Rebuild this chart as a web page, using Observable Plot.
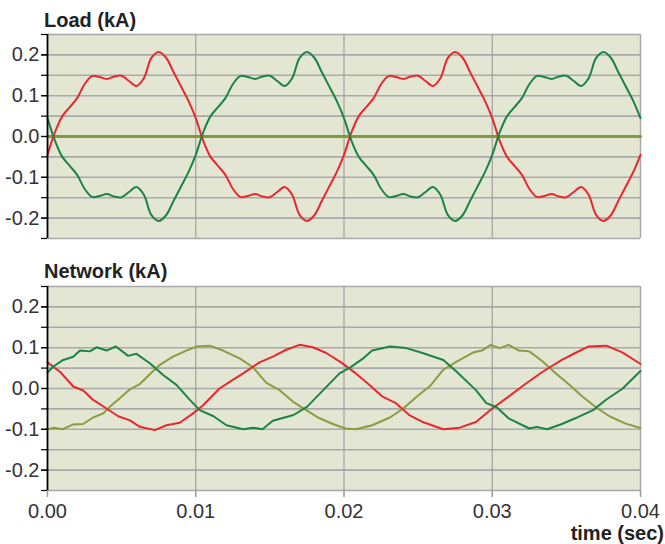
<!DOCTYPE html>
<html><head><meta charset="utf-8">
<script src="https://cdn.jsdelivr.net/npm/d3@7"></script>
<script src="https://cdn.jsdelivr.net/npm/@observablehq/plot@0.6"></script>
<style>
body{margin:0;background:#fff;font-family:"Liberation Sans",Arial,Helvetica,sans-serif;}
#wrap{position:relative;width:665px;height:544px;overflow:hidden;}
.title{position:absolute;font-weight:bold;font-size:20px;color:#222;line-height:20px;white-space:nowrap;}
#p1,#p2{position:absolute;left:0;}
</style>
</head><body>
<div id="wrap">
  <div class="title" id="t1" style="left:44px;top:10px;"></div>
  <div id="p1" style="top:0;"></div>
  <div class="title" id="t2" style="left:44px;top:261px;"></div>
  <div id="p2" style="top:250px;"></div>
  <div class="title" id="xl" style="right:1px;top:523px;"></div>
</div>
<script>
// ---- text ----
const loadTitle = "Load (kA)";
const networkTitle = "Network (kA)";
const xAxisLabel = "time (sec)";

// ---- axis ticks ----
const yTicks = [-0.25,-0.2,-0.15,-0.1,-0.05,0,0.05,0.1,0.15,0.2,0.25];
const yLabelTicks = [-0.2,-0.1,0,0.1,0.2];
const xTicks = [0,0.01,0.02,0.03,0.04];
const xGrid = [0.01,0.02,0.03];

// ---- Load panel (sampled every 0.5 ms, times in ms) ----
const loadTimeMs = d3.range(0, 40.25, 0.5);
const loadRed = [-0.045,
 0.01,0.05,0.072,0.094,0.128,0.148,0.146,0.141,0.147,0.149,0.136,0.124,0.143,0.192,0.207,0.193,0.158,0.123,0.088,0.045,
 -0.01,-0.05,-0.072,-0.094,-0.128,-0.148,-0.146,-0.141,-0.147,-0.149,-0.136,-0.124,-0.143,-0.192,-0.207,-0.193,-0.158,-0.123,-0.088,-0.045,
 0.01,0.05,0.072,0.094,0.128,0.148,0.146,0.141,0.147,0.149,0.136,0.124,0.143,0.192,0.207,0.193,0.158,0.123,0.088,0.045,
 -0.01,-0.05,-0.072,-0.094,-0.128,-0.148,-0.146,-0.141,-0.147,-0.149,-0.136,-0.124,-0.143,-0.192,-0.207,-0.193,-0.158,-0.123,-0.088,-0.045];
const loadGreen = [0.045,
 -0.01,-0.05,-0.072,-0.094,-0.128,-0.148,-0.146,-0.141,-0.147,-0.149,-0.136,-0.124,-0.143,-0.192,-0.207,-0.193,-0.158,-0.123,-0.088,-0.045,
 0.01,0.05,0.072,0.094,0.128,0.148,0.146,0.141,0.147,0.149,0.136,0.124,0.143,0.192,0.207,0.193,0.158,0.123,0.088,0.045,
 -0.01,-0.05,-0.072,-0.094,-0.128,-0.148,-0.146,-0.141,-0.147,-0.149,-0.136,-0.124,-0.143,-0.192,-0.207,-0.193,-0.158,-0.123,-0.088,-0.045,
 0.01,0.05,0.072,0.094,0.128,0.148,0.146,0.141,0.147,0.149,0.136,0.124,0.143,0.192,0.207,0.193,0.158,0.123,0.088,0.045];
const loadOliveTimeMs = [0, 40];
const loadOlive = [0, 0];

// ---- Network panel (times in ms) ----
const netRedTimeMs = [0,0.84,1.74,2.41,3.08,3.98,4.77,5.56,6.23,7.24,8.02,8.92,9.82,10.5,11.6,12.5,13.2,14.3,15.2,16.1,17.0,17.9,18.8,19.8,20.8,21.7,22.6,23.5,24.4,25.3,26.7,27.8,28.9,30.0,31.1,32.3,33.4,34.7,35.6,36.5,37.7,38.8,40.0];
const netRed = [0.064,0.041,0.005,-0.005,-0.028,-0.049,-0.068,-0.078,-0.094,-0.102,-0.09,-0.084,-0.061,-0.041,0.0,0.021,0.037,0.064,0.078,0.095,0.107,0.101,0.087,0.064,0.037,0.009,-0.02,-0.036,-0.065,-0.082,-0.1,-0.096,-0.082,-0.049,-0.02,0.013,0.041,0.07,0.087,0.103,0.105,0.088,0.06];
const netGreenTimeMs = [0,0.4,1.06,1.74,2.19,2.86,3.31,3.98,4.61,5.44,6.0,6.9,7.8,8.7,9.6,10.27,11.2,12.07,13.2,13.86,14.5,15.2,16.6,17.5,18.6,19.7,20.4,21.3,21.9,23.1,24.2,25.3,26.7,27.6,28.9,29.6,30.3,31.1,32.5,33.0,33.7,34.7,35.6,36.8,37.7,38.8,40.0];
const netGreen = [0.039,0.054,0.07,0.078,0.093,0.091,0.101,0.093,0.103,0.08,0.085,0.062,0.033,0.009,-0.028,-0.053,-0.068,-0.09,-0.1,-0.096,-0.1,-0.079,-0.065,-0.045,-0.004,0.037,0.051,0.074,0.093,0.103,0.099,0.087,0.07,0.041,-0.004,-0.036,-0.046,-0.073,-0.098,-0.094,-0.1,-0.087,-0.073,-0.053,-0.027,0.0,0.043];
const netOliveTimeMs = [0,0.45,1.0,1.74,2.4,3.08,3.76,4.2,4.88,5.56,6.23,6.9,7.58,8.47,9.37,10.05,10.94,11.84,12.96,13.86,14.76,15.66,16.55,17.45,18.35,19.25,20.1,20.8,21.9,23.1,24.0,24.9,25.8,26.7,27.6,28.7,29.3,29.9,30.5,31.1,31.8,32.5,33.4,34.3,35.2,36.1,37.0,37.9,39.0,40.0];
const netOlive = [-0.1,-0.096,-0.1,-0.088,-0.087,-0.071,-0.061,-0.045,-0.024,-0.002,0.011,0.035,0.058,0.078,0.093,0.103,0.105,0.093,0.074,0.052,0.014,-0.004,-0.032,-0.053,-0.073,-0.087,-0.098,-0.1,-0.09,-0.071,-0.049,-0.02,0.006,0.046,0.066,0.088,0.093,0.107,0.099,0.107,0.093,0.091,0.066,0.037,0.009,-0.02,-0.046,-0.068,-0.086,-0.097];

const RED = "#e8282c", GREEN = "#1b8443", OLIVE = "#8a9c40", BG = "#e4e6d4", GRID = "#a9a9a9";

const rows = (tms, vals) => tms.map((t, i) => ({t: t / 1000, v: vals[i]}));

function baseMarks() {
  return [
    Plot.frame({fill: BG, stroke: null}),
    Plot.gridY(yTicks, {stroke: GRID, strokeOpacity: 1, strokeWidth: 1.6}),
    Plot.gridX(xGrid, {stroke: "#a0a0a0", strokeOpacity: 1, strokeWidth: 1.2}),
    Plot.ruleX([0.04], {stroke: "#a8a8a8", strokeWidth: 1.5})
  ];
}
function yAxisMarks() {
  return [
    Plot.axisY(yTicks, {label: null, tickSize: 6, tickFormat: () => "", stroke: "#000", strokeWidth: 1.2}),
    Plot.axisY(yLabelTicks, {label: null, tickSize: 6, tickPadding: 2, tickFormat: d => d.toFixed(1), fontSize: 20, fill: "#333", stroke: "#000", strokeWidth: 1.2}),
    Plot.ruleX([0], {stroke: "#000", strokeWidth: 1.8})
  ];
}

const p1 = Plot.plot({
  width: 665, height: 250,
  marginLeft: 47, marginRight: 25, marginTop: 34, marginBottom: 12,
  style: {background: "transparent", fontFamily: "'Liberation Sans', Arial, sans-serif"},
  x: {domain: [0, 0.04], axis: null, label: null},
  y: {domain: [-0.25, 0.25], axis: null, label: null},
  marks: [
    ...baseMarks(),
    Plot.line(rows(loadOliveTimeMs, loadOlive), {x: "t", y: "v", stroke: "#809a3c", strokeWidth: 3.2}),
    Plot.line(rows(loadTimeMs, loadRed), {x: "t", y: "v", stroke: RED, strokeWidth: 2, curve: "catmull-rom"}),
    Plot.line(rows(loadTimeMs, loadGreen), {x: "t", y: "v", stroke: GREEN, strokeWidth: 2, curve: "catmull-rom"}),
    ...yAxisMarks()
  ]
});

const p2 = Plot.plot({
  width: 665, height: 294,
  marginLeft: 47, marginRight: 25, marginTop: 36, marginBottom: 54,
  style: {background: "transparent", fontFamily: "'Liberation Sans', Arial, sans-serif"},
  x: {domain: [0, 0.04], axis: null, label: null},
  y: {domain: [-0.25, 0.25], axis: null, label: null},
  marks: [
    ...baseMarks(),
    Plot.line(rows(netOliveTimeMs, netOlive), {x: "t", y: "v", stroke: OLIVE, strokeWidth: 2}),
    Plot.line(rows(netRedTimeMs, netRed), {x: "t", y: "v", stroke: RED, strokeWidth: 2}),
    Plot.line(rows(netGreenTimeMs, netGreen), {x: "t", y: "v", stroke: GREEN, strokeWidth: 2}),
    Plot.axisX(xTicks, {label: null, tickSize: 7, tickPadding: 6, tickFormat: d => d.toFixed(2), fontSize: 20, fill: "#333", stroke: "#999", strokeWidth: 1.5}),
    ...yAxisMarks()
  ]
});

document.getElementById("p1").appendChild(p1);
document.getElementById("p2").appendChild(p2);
document.getElementById("t1").textContent = loadTitle;
document.getElementById("t2").textContent = networkTitle;
document.getElementById("xl").textContent = xAxisLabel;
</script>
</body></html>
